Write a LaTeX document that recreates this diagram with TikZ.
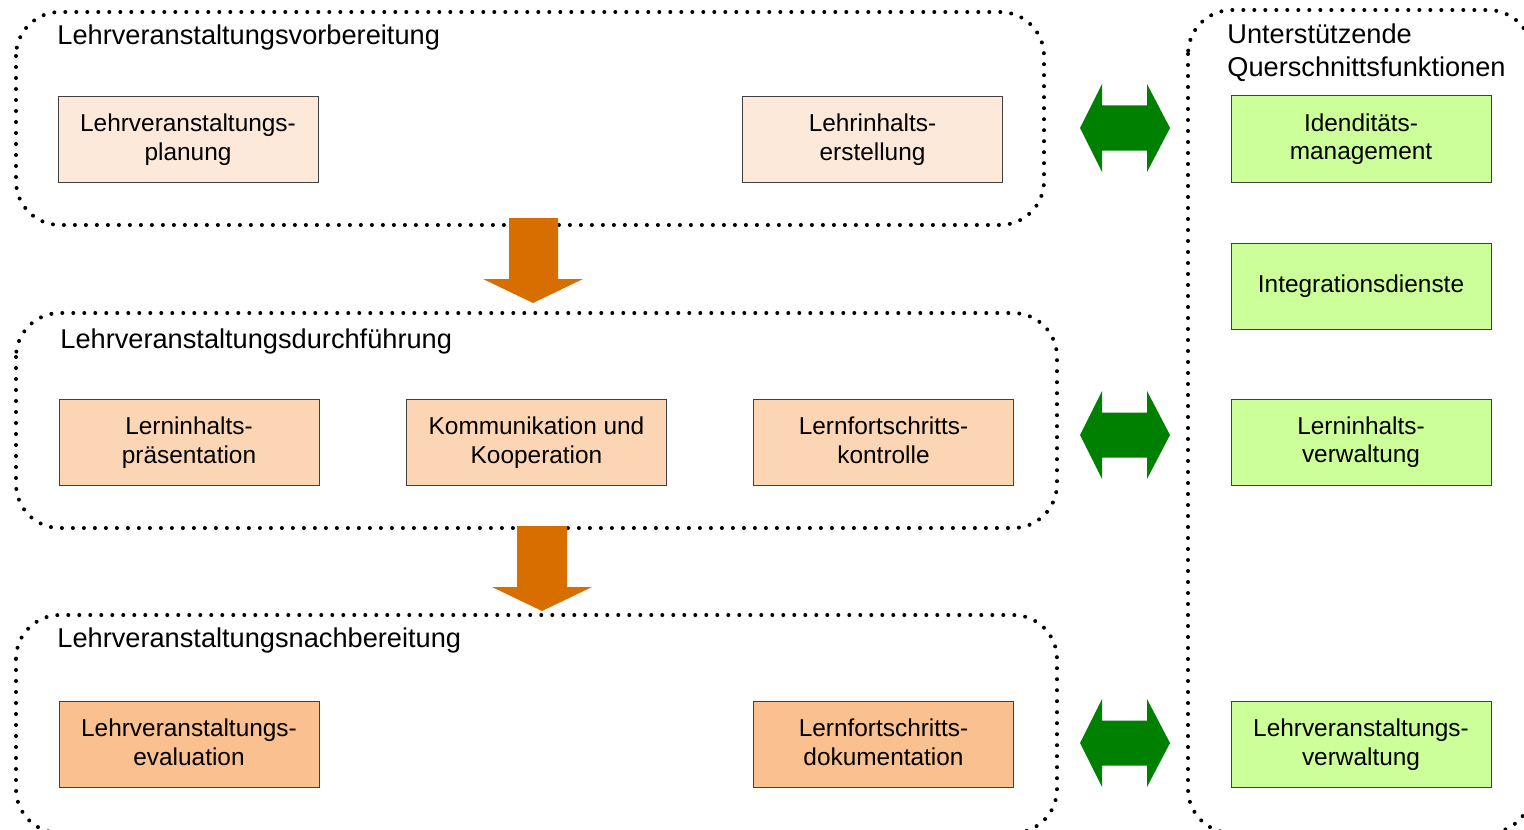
\documentclass[tikz,border=0pt]{standalone}
\usepackage{fontspec}
\setmainfont{Liberation Sans}
\begin{document}
\begin{tikzpicture}[x=0.5pt,y=-0.5pt,
  grp/.style={draw=black,line width=2pt,line cap=round,dash pattern=on 0pt off 5.5pt,rounded corners=22pt},
  boxbase/.style={draw=black!75,line width=0.5pt,minimum width=130pt,minimum height=43pt,align=center,inner sep=0pt,
    font=\fontsize{12.2}{14.2}\selectfont,execute at begin node=\vphantom{Lg},execute at end node=\vphantom{Lg}},
  prep/.style={boxbase,fill=prepcol},
  exec/.style={boxbase,fill=execcol},
  post/.style={boxbase,fill=postcol},
  supp/.style={boxbase,fill=suppcol},
  title/.style={anchor=west,inner sep=0pt,align=left,font=\fontsize{13.6}{16.5}\selectfont},
  flow/.style={fill=flowcol,draw=none},
  link/.style={fill=linkcol,draw=none}]
\definecolor{prepcol}{HTML}{FDE9D9}
\definecolor{execcol}{HTML}{FCD5B4}
\definecolor{postcol}{HTML}{FAC090}
\definecolor{suppcol}{HTML}{CCFF99}
\definecolor{flowcol}{HTML}{D86D00}
\definecolor{linkcol}{HTML}{008000}
\useasboundingbox (0,0) rectangle (1524,829);
\clip (0,0) rectangle (1524,829);

% groups
\draw[grp] (16,12) rectangle (1044,225);
\draw[grp] (16,313) rectangle (1057,528);
\draw[grp] (16,615) rectangle (1057,833);
\draw[grp] (1188,10) rectangle (1532,833);

% titles
\node[title] (t1) at (57,37) {Lehrveranstaltungsvorbereitung};
\node[title] (t2) at (60,341) {Lehrveranstaltungsdurchführung};
\node[title] (t3) at (57,640) {Lehrveranstaltungsnachbereitung};
\node[title] (t4) at (1227,53) {Unterstützende\\Querschnittsfunktionen};

% boxes
\node[prep] (a1) at (188,139.5) {Lehrveranstaltungs-\\planung};
\node[prep] (a2) at (872.5,139.5) {Lehrinhalts-\\erstellung};
\node[exec] (b1) at (189,442.5) {Lerninhalts-\\präsentation};
\node[exec] (b2) at (536.5,442.5) {Kommunikation und\\Kooperation};
\node[exec] (b3) at (883.5,442.5) {Lernfortschritts-\\kontrolle};
\node[post] (c1) at (189,744.5) {Lehrveranstaltungs-\\evaluation};
\node[post] (c2) at (883.5,744.5) {Lernfortschritts-\\dokumentation};
\node[supp] (s1) at (1361,139) {Idenditäts-\\management};
\node[supp] (s2) at (1361,286) {Integrationsdienste};
\node[supp] (s3) at (1361,442) {Lerninhalts-\\verwaltung};
\node[supp] (s4) at (1361,744.5) {Lehrveranstaltungs-\\verwaltung};

% orange flow arrows
\fill[flow] (509,218) -- (558,218) -- (558,279) -- (583,279) -- (533,303) -- (483,279) -- (509,279) -- cycle;
\fill[flow] (517,526) -- (567,526) -- (567,587) -- (592,587) -- (542,611) -- (492,587) -- (517,587) -- cycle;

% green double arrows
\foreach \cy in {128,435,743}{
  \fill[link] (1080,\cy) -- (1102,\cy-44) -- (1102,\cy-22.5) -- (1147,\cy-22.5) -- (1147,\cy-44) -- (1170,\cy)
    -- (1147,\cy+44) -- (1147,\cy+22.5) -- (1102,\cy+22.5) -- (1102,\cy+44) -- cycle;
}
\end{tikzpicture}
\end{document}
